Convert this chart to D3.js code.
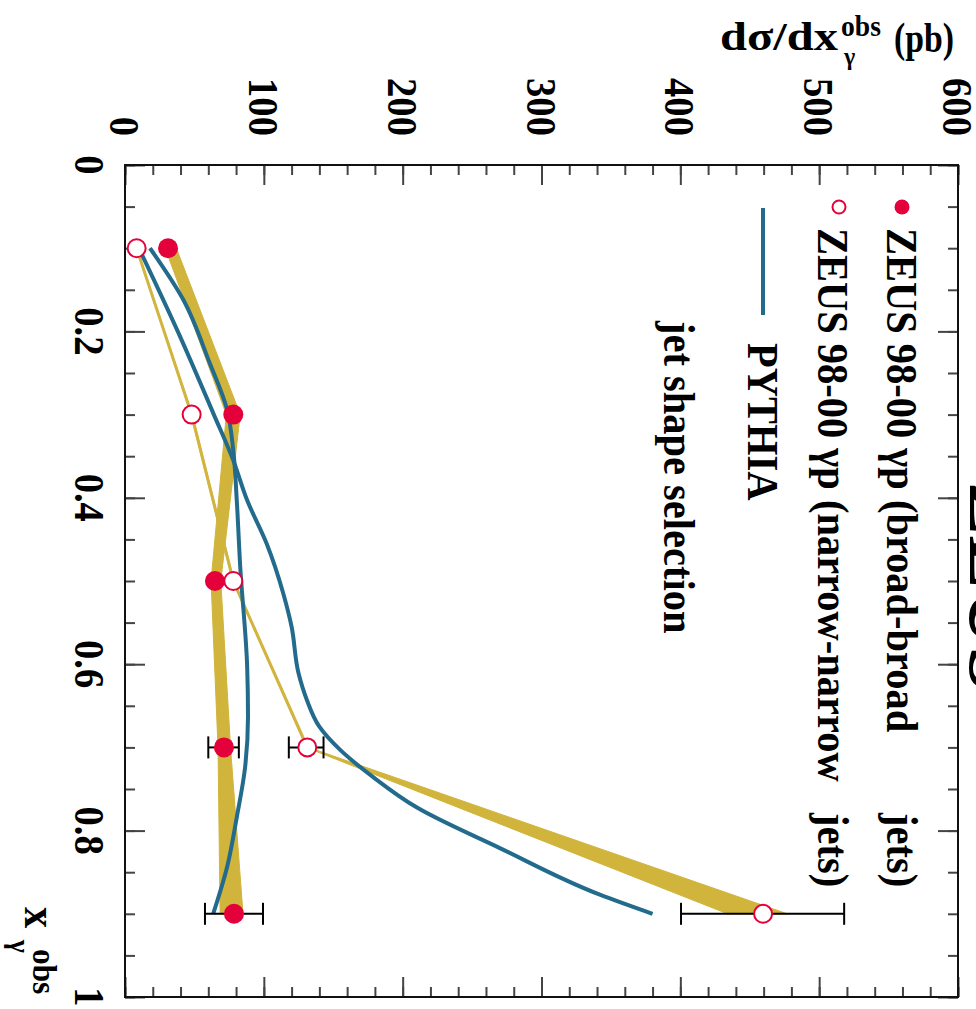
<!DOCTYPE html>
<html>
<head>
<meta charset="utf-8">
<script src="https://cdn.jsdelivr.net/npm/d3@7"></script>
<style>
  body { margin: 0; background: #fff; }
  text { font-family: "Liberation Serif", "Times New Roman", serif; font-weight: bold; fill: #000; }
</style>
</head>
<body>
<div id="chart"></div>
<script>
// x_gamma bins (bin centres)
var xgBins = [0.1, 0.3, 0.5, 0.7, 0.9];

// ZEUS 98-00 broad-broad
var broadVals  = [31, 78, 64.8, 71.3, 78.5];
var broadErrLo = [29.5, 76, 63, 60, 57.6];
var broadErrHi = [32.5, 80, 66.5, 82, 99.4];
var broadSysLo = [29, 73, 62, 67, 68.5];
var broadSysHi = [37, 83, 69, 76, 85];

// ZEUS 98-00 narrow-narrow
var narrowVals  = [8.4, 48, 78, 131.3, 459.6];
var narrowErrLo = [7.5, 46.5, 76.5, 118, 400.5];
var narrowErrHi = [9.5, 49.5, 79.5, 143, 518];
var narrowSysLo = [7.6, 47.2, 77.2, 130.4, 434];
var narrowSysHi = [9.1, 48.8, 78.8, 132.2, 477];

// PYTHIA predictions
var pythiaBroadX = [0.1, 0.162, 0.238, 0.294, 0.343, 0.403, 0.483, 0.603, 0.663, 0.724, 0.784, 0.844, 0.9];
var pythiaBroadY = [18, 42, 61, 73.5, 78, 80.5, 83, 88, 88.6, 86.5, 80.5, 73.5, 63.5];
var pythiaNarrowX = [0.1, 0.2, 0.3, 0.355, 0.403, 0.455, 0.515, 0.555, 0.611, 0.643, 0.675, 0.703, 0.736, 0.772, 0.821, 0.877, 0.9];
var pythiaNarrowY = [10, 38, 64, 78, 88, 102, 114, 120, 125, 131, 140, 155, 179, 210, 270, 342, 380];

// axis ticks
var xTickVals = [0, 0.2, 0.4, 0.6, 0.8, 1];
var xTickLabels = ["0", "0.2", "0.4", "0.6", "0.8", "1"];
var yTickVals = [0, 100, 200, 300, 400, 500, 600];
var yTickLabels = ["0", "100", "200", "300", "400", "500", "600"];

var legendLabels = ["ZEUS 98-00 \u03b3p (broad-broad", "ZEUS 98-00 \u03b3p (narrow-narrow", "PYTHIA", "jet shape selection"];

var RED = "#e4003a", GOLD = "#d1b43c", BLUE = "#236b8c";
var SX = 0.92;   // text squeeze along reading direction

var svg = d3.select("#chart").append("svg")
  .attr("width", 976)
  .attr("height", 1009);

svg.append("rect").attr("width", 976).attr("height", 1009).attr("fill", "#fff");

// the plot is drawn turned by 90 degrees: x_gamma runs down, dsigma runs right
var xg = d3.scaleLinear().domain([0, 1]).range([165, 997]);
var ds = d3.scaleLinear().domain([0, 600]).range([125, 958]);

// rotated text helper
function rtext(x, y, str, size, anchor) {
  return svg.append("text")
    .attr("transform", "translate(" + x + "," + y + ") rotate(90) scale(" + SX + ",1)")
    .attr("text-anchor", anchor || "start")
    .style("font-size", size + "px")
    .text(str);
}

// ticks on all four sides
function ticks(axis, tx, ty) {
  svg.append("g")
    .attr("transform", "translate(" + tx + "," + ty + ")")
    .call(axis.tickFormat(""))
    .call(function (g) { g.select(".domain").remove(); })
    .selectAll("line").attr("stroke", "#444").attr("stroke-width", 2);
}
var xMinor = d3.range(0, 1.001, 0.05), yMinor = d3.range(0, 601, 20);
ticks(d3.axisRight(xg).tickValues(xMinor).tickSize(10), 125, 0);
ticks(d3.axisRight(xg).tickValues(xTickVals).tickSize(20), 125, 0);
ticks(d3.axisLeft(xg).tickValues(xMinor).tickSize(10), 958, 0);
ticks(d3.axisLeft(xg).tickValues(xTickVals).tickSize(20), 958, 0);
ticks(d3.axisBottom(ds).tickValues(yMinor).tickSize(10), 0, 165);
ticks(d3.axisBottom(ds).tickValues(yTickVals).tickSize(20), 0, 165);
ticks(d3.axisTop(ds).tickValues(yMinor).tickSize(10), 0, 997);
ticks(d3.axisTop(ds).tickValues(yTickVals).tickSize(20), 0, 997);

svg.append("rect")
  .attr("x", ds(0)).attr("y", xg(0))
  .attr("width", ds(600) - ds(0)).attr("height", xg(1) - xg(0))
  .attr("fill", "none").attr("stroke", "#111").attr("stroke-width", 2);

// tick labels
xTickVals.forEach(function (v, i) { rtext(75, xg(v), xTickLabels[i], 42, "middle"); });
yTickVals.forEach(function (v, i) { rtext(ds(v) - 15, 136, yTickLabels[i], 42, "end"); });

// axis titles
svg.append("text").attr("x", 720).attr("y", 50)
  .attr("textLength", 118).attr("lengthAdjust", "spacingAndGlyphs")
  .style("font-size", "40px").text("d\u03c3/dx");
svg.append("text").attr("transform", "translate(844,65) scale(" + SX + ",1)").style("font-size", "26px").text("\u03b3");
svg.append("text").attr("transform", "translate(841,36) scale(" + SX + ",1)").style("font-size", "30px").text("obs");
svg.append("text").attr("x", 894).attr("y", 52)
  .attr("textLength", 60).attr("lengthAdjust", "spacingAndGlyphs")
  .style("font-size", "42px").text("(pb)");

rtext(25, 907, "x", 46);
rtext(10, 940, "\u03b3", 30);
rtext(33, 949, "obs", 34);

// experiment logo, mostly off the page
svg.append("text")
  .attr("transform", "translate(970,482) rotate(90)")
  .style("font-size", "80px")
  .text("ZEUS");

// systematic bands
function bandData(lo, hi) {
  return xgBins.map(function (x, i) { return { x: x, lo: lo[i], hi: hi[i] }; });
}
var band = d3.area()
  .y(function (d) { return xg(d.x); })
  .x0(function (d) { return ds(d.lo); })
  .x1(function (d) { return ds(d.hi); });

[[broadSysLo, broadSysHi], [narrowSysLo, narrowSysHi]].forEach(function (b) {
  svg.append("path")
    .attr("d", band(bandData(b[0], b[1])))
    .attr("fill", GOLD)
    .attr("stroke", GOLD)
    .attr("stroke-width", 1)
    .attr("stroke-linejoin", "round");
});

// PYTHIA curves
var curve = d3.line()
  .x(function (d) { return ds(d[1]); })
  .y(function (d) { return xg(d[0]); })
  .curve(d3.curveMonotoneY);

[[pythiaBroadX, pythiaBroadY], [pythiaNarrowX, pythiaNarrowY]].forEach(function (p) {
  svg.append("path")
    .attr("d", curve(d3.zip(p[0], p[1])))
    .attr("fill", "none")
    .attr("stroke", BLUE)
    .attr("stroke-width", 4);
});

// data points with error bars
var R = 10;
function points(vals, lo, hi, open) {
  var pts = xgBins.map(function (x, i) { return { x: x, v: vals[i], lo: lo[i], hi: hi[i] }; });
  var err = svg.append("g").attr("stroke", "#000").attr("stroke-width", 2)
    .selectAll("g")
    .data(pts.filter(function (d) { return ds(d.hi) - ds(d.lo) > 2 * R; }))
    .enter().append("g");
  err.append("line")
    .attr("x1", function (d) { return ds(d.lo); })
    .attr("x2", function (d) { return ds(d.hi); })
    .attr("y1", function (d) { return xg(d.x); })
    .attr("y2", function (d) { return xg(d.x); });
  ["lo", "hi"].forEach(function (k) {
    err.append("line")
      .attr("x1", function (d) { return ds(d[k]); })
      .attr("x2", function (d) { return ds(d[k]); })
      .attr("y1", function (d) { return xg(d.x) - 11; })
      .attr("y2", function (d) { return xg(d.x) + 11; });
  });
  svg.append("g").selectAll("circle")
    .data(pts)
    .enter().append("circle")
    .attr("cx", function (d) { return ds(d.v); })
    .attr("cy", function (d) { return xg(d.x); })
    .attr("r", open ? R - 1 : R)
    .attr("fill", open ? "#fff" : RED)
    .attr("stroke", open ? RED : "none")
    .attr("stroke-width", 2);
}
points(broadVals, broadErrLo, broadErrHi, false);
points(narrowVals, narrowErrLo, narrowErrHi, true);

// legend
svg.append("circle").attr("cx", 902).attr("cy", 207).attr("r", 7.5).attr("fill", RED);
svg.append("circle").attr("cx", 839).attr("cy", 207).attr("r", 6.5).attr("fill", "#fff").attr("stroke", RED).attr("stroke-width", 2);
svg.append("line").attr("x1", 763).attr("x2", 763).attr("y1", 208).attr("y2", 315).attr("stroke", BLUE).attr("stroke-width", 4);

rtext(887, 228, legendLabels[0], 44);
rtext(887, 813, "jets)", 44);
rtext(818, 228, legendLabels[1], 44);
rtext(818, 813, "jets)", 44);
rtext(748, 343, legendLabels[2], 44);
rtext(664, 321, legendLabels[3], 44);
</script>
</body>
</html>
